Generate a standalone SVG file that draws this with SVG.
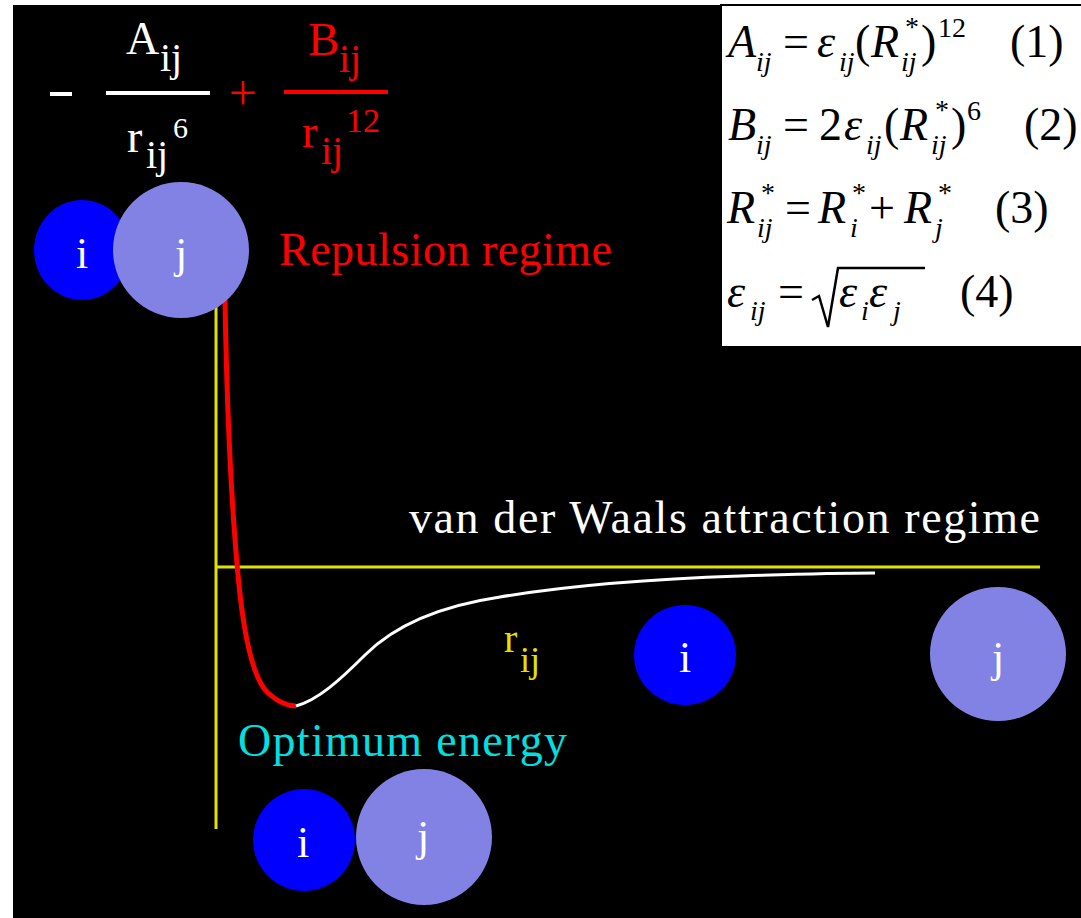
<svg xmlns="http://www.w3.org/2000/svg" width="1081" height="918" viewBox="0 0 1081 918">
<style>
.t{font-family:"Liberation Serif","Times New Roman",serif}
.w{fill:#ffffff}
.r{fill:#ff0000}
.lab{font-family:"Liberation Serif","Times New Roman",serif;font-size:44px;fill:#ffffff;text-anchor:middle}
.eq{font-family:"Liberation Serif","Times New Roman",serif;font-size:46px;fill:#000000}
.it{font-style:italic}
.sub{font-size:28px}
.blue{fill:#0000ff}
.lav{fill:#8282e4}
</style>
<rect x="0" y="0" width="1081" height="918" fill="#ffffff"/>
<rect x="13" y="5" width="1068" height="913" fill="#000000"/>

<g id="formula-top">
<rect x="50" y="92" width="22" height="4" fill="#ffffff"/>
<rect x="106" y="91" width="104" height="4" fill="#ffffff"/>
<text class="t w" x="126" y="54" font-size="46">A</text>
<text class="t w" x="160" y="71" font-size="40">ij</text>
<text class="t w" x="127" y="152" font-size="46">r</text>
<text class="t w" x="146" y="168" font-size="40">ij</text>
<text class="t w" x="173" y="138" font-size="30">6</text>
<text class="t r" x="229" y="110" font-size="50">+</text>
<rect x="284" y="90" width="104" height="4" fill="#ff0000"/>
<text class="t r" x="308" y="55" font-size="47">B</text>
<text class="t r" x="339" y="72" font-size="40">ij</text>
<text class="t r" x="302" y="147" font-size="46">r</text>
<text class="t r" x="321" y="164" font-size="40">ij</text>
<text class="t r" x="346" y="132" font-size="34">12</text>
</g>

<g id="equations">
<rect x="721" y="5" width="362" height="342" fill="#ffffff" stroke="#000000" stroke-width="2"/>
<g class="eq">
<text x="728" y="57" class="it">A</text>
<text x="756" y="71" class="it sub">ij</text>
<text x="783" y="57">=</text>
<text x="817" y="57" class="it">ε</text>
<text x="839" y="71" class="it sub">ij</text>
<text x="855" y="57">(</text>
<text x="871" y="57" class="it">R</text>
<text x="905" y="36" class="sub">*</text>
<text x="901" y="71" class="it sub">ij</text>
<text x="921" y="57">)</text>
<text x="938" y="37" class="sub">12</text>
<text x="1010" y="57">(1)</text>

<text x="728" y="140" class="it">B</text>
<text x="756" y="154" class="it sub">ij</text>
<text x="783" y="140">=</text>
<text x="819" y="140">2</text>
<text x="844" y="140" class="it">ε</text>
<text x="866" y="154" class="it sub">ij</text>
<text x="884" y="140">(</text>
<text x="900" y="140" class="it">R</text>
<text x="935" y="119" class="sub">*</text>
<text x="931" y="154" class="it sub">ij</text>
<text x="951" y="140">)</text>
<text x="967" y="120" class="sub">6</text>
<text x="1024" y="140">(2)</text>

<text x="727" y="223" class="it">R</text>
<text x="761" y="202" class="sub">*</text>
<text x="757" y="237" class="it sub">ij</text>
<text x="785" y="223">=</text>
<text x="818" y="223" class="it">R</text>
<text x="852" y="202" class="sub">*</text>
<text x="850" y="237" class="it sub">i</text>
<text x="869" y="223">+</text>
<text x="904" y="223" class="it">R</text>
<text x="938" y="202" class="sub">*</text>
<text x="935" y="237" class="it sub">j</text>
<text x="995" y="223">(3)</text>

<text x="727" y="307" class="it">ε</text>
<text x="750" y="320" class="it sub">ij</text>
<text x="778" y="307">=</text>
<path d="M812,300 L819,296 L828,327 L838,268 L925,268" fill="none" stroke="#000000" stroke-width="2.5"/>
<text x="839" y="307" class="it">ε</text>
<text x="861" y="320" class="it sub">i</text>
<text x="869" y="307" class="it">ε</text>
<text x="893" y="320" class="it sub">j</text>
<text x="960" y="307">(4)</text>
</g>
</g>

<g id="axes">
<line x1="216" y1="298" x2="216" y2="829" stroke="#e2e200" stroke-width="3"/>
<line x1="216" y1="567" x2="1040" y2="567" stroke="#e2e200" stroke-width="3"/>
</g>

<g id="curve">
<path d="M225,300 C227,420 232,510 238,575 C244,640 254,680 268,693 C278,702 288,706 296,706" fill="none" stroke="#ff0000" stroke-width="5"/>
<path d="M296,706 C318,700 340,680 365,655 C395,625 440,606 500,597 C560,587 650,579 740,576 C800,574 850,573 875,573" fill="none" stroke="#ffffff" stroke-width="3"/>
</g>

<g id="pair-repulsion">
<ellipse cx="82" cy="250" rx="48" ry="50" class="blue"/>
<circle cx="181" cy="250" r="68" class="lav"/>
<text x="82" y="268" class="lab">i</text>
<text x="181" y="268" class="lab">j</text>
</g>

<g id="pair-far">
<ellipse cx="685" cy="655" rx="51" ry="50" class="blue"/>
<ellipse cx="998" cy="654" rx="68" ry="67" class="lav"/>
<text x="685" y="672" class="lab">i</text>
<text x="998" y="672" class="lab">j</text>
</g>

<g id="pair-optimum">
<circle cx="304" cy="840" r="51" class="blue"/>
<circle cx="424" cy="837" r="68" class="lav"/>
<text x="303" y="857" class="lab">i</text>
<text x="423" y="851" class="lab">j</text>
</g>

<g id="labels">
<text class="t r" x="279" y="265" font-size="46" textLength="333">Repulsion regime</text>
<text class="t w" x="409" y="533" font-size="46" textLength="631">van der Waals attraction regime</text>
<text class="t" x="238" y="756" font-size="46" fill="#00e0e0" textLength="329">Optimum energy</text>
<text class="t" x="504" y="652" font-size="40" fill="#e2e200">r</text>
<text class="t" x="520" y="672" font-size="36" fill="#e2e200">ij</text>
</g>
</svg>
